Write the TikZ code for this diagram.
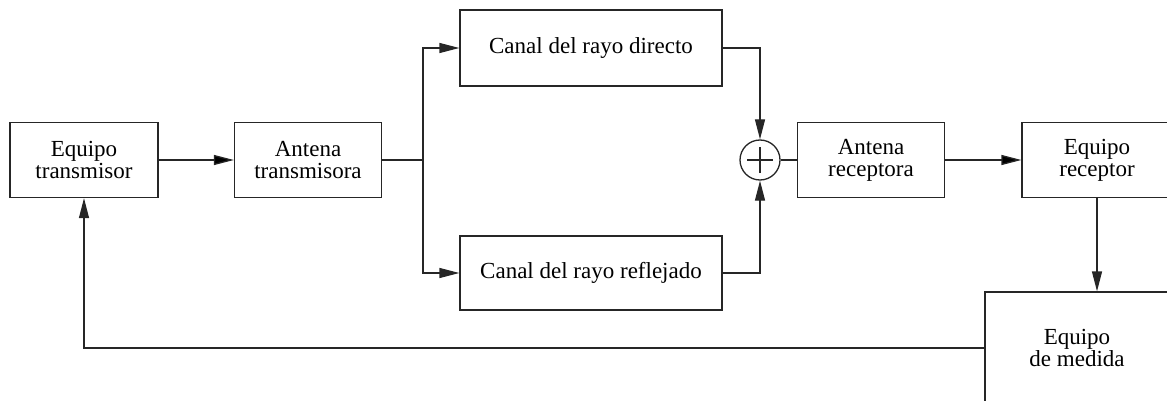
\documentclass[tikz,border=0pt]{standalone}
\usepackage{fontspec}
\setmainfont{Liberation Serif}
\usetikzlibrary{arrows.meta}
\begin{document}
\begin{tikzpicture}[x=1pt,y=-1pt,line width=1.3pt,>={Triangle[length=20pt,width=10pt]}]
        \tikzstyle{block}=[draw=black!85,rectangle,align=center,minimum height=75pt,inner sep=0pt,font=\fontsize{23}{22}\selectfont]
        \tikzstyle{edge}=[draw=black!85]
        \tikzstyle{adder}=[circle,draw=black!85,minimum size=40pt,inner sep=0pt]

        \useasboundingbox (0,0) rectangle (1167,401);

        % transmitting side
        \node [block, minimum width=148pt] (tx) at (84,160) {Equipo\\transmisor};
        \node [block, minimum width=147pt] (atx) at (308,160) {Antena\\transmisora};
        \coordinate (split) at (423,160);

        % the two channels
        \node [block, minimum width=262pt, minimum height=76pt] (direct) at (591,48) {Canal del rayo directo};
        \node [block, minimum width=262pt, minimum height=74pt] (refl) at (591,273) {Canal del rayo reflejado};

        % receiving side
        \node [adder] (sum) at (760,160) {};
        \node [block, minimum width=147pt] (arx) at (871,160) {Antena\\receptora};
        \node [block, minimum width=150pt] (rx) at (1097,160) {Equipo\\receptor};
        \node [block, minimum width=184pt, minimum height=112pt] (med) at (1077,348) {Equipo\\de medida};

        \draw [edge] ([xshift=-13pt]sum.center) -- ([xshift=13pt]sum.center);
        \draw [edge] ([yshift=-13pt]sum.center) -- ([yshift=13pt]sum.center);

        \path [edge, ->] (tx) edge (atx);
        \path [edge] (atx.east) edge (split);
        \draw [edge, ->] (split) |- (direct.west);
        \draw [edge, ->] (split) |- (refl.west);
        \draw [edge, ->] (direct.east) -| (sum.north);
        \draw [edge, ->] (refl.east) -| (sum.south);
        \path [edge] (sum) edge (arx);
        \path [edge, ->] (arx) edge (rx);
        \draw [edge, ->] (rx.south) -- (rx.south |- med.north);
        \draw [edge, ->] (med.west) -| (tx.south);
\end{tikzpicture}
\end{document}
